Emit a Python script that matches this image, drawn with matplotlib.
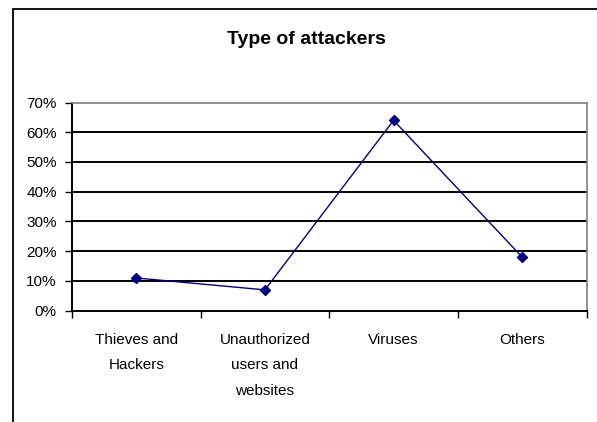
import matplotlib
matplotlib.use("Agg")
import matplotlib.pyplot as plt
from matplotlib.patches import Rectangle
from matplotlib.ticker import FixedLocator, NullFormatter

plt.rcParams['font.family'] = ['Liberation Sans', 'DejaVu Sans']

categories = ["Thieves and\nHackers", "Unauthorized\nusers and\nwebsites", "Viruses", "Others"]
shares = [11, 7, 64, 18]
y_ticks = [0, 10, 20, 30, 40, 50, 60, 70]
y_labels = ["%d%%" % v for v in y_ticks]

W, H = 597, 422
fig = plt.figure(figsize=(W / 100, H / 100), dpi=100)
fig.patch.set_facecolor("white")

# chart area border, runs off the right and bottom of the canvas
fig.add_artist(Rectangle((12.5 / W, -0.2), 2.0, 1.2 - 9 / H,
                         transform=fig.transFigure, fill=False,
                         edgecolor="black", linewidth=1.3))

ax = fig.add_axes([72 / W, 1 - 310.7 / H, (586.5 - 72) / W, (310.7 - 102.5) / H])

xs = list(range(len(categories)))
ax.plot(xs, shares, color="#000080", linewidth=1.0, marker="D",
        markersize=5.5, markerfacecolor="#000080", markeredgecolor="#000080",
        zorder=5)

ax.set_xlim(-0.5, len(categories) - 0.5)
ax.set_ylim(0, 70)

for v in y_ticks[1:-1]:
    ax.axhline(v, color="black", linewidth=1.4, zorder=1)

ax.set_yticks(y_ticks)
ax.set_yticklabels(y_labels, fontsize=11)
ax.tick_params(axis="y", direction="out", length=5, width=1, pad=6)

ax.xaxis.set_major_locator(FixedLocator([x - 0.5 for x in range(len(categories) + 1)]))
ax.xaxis.set_major_formatter(NullFormatter())
ax.xaxis.set_minor_locator(FixedLocator(xs))
ax.set_xticklabels(categories, minor=True, fontsize=11, linespacing=2.05, va="top")
ax.tick_params(axis="x", which="major", direction="out", length=5, width=1)
ax.tick_params(axis="x", which="minor", length=0, pad=16)

for side in ("left", "bottom"):
    ax.spines[side].set_color("black")
    ax.spines[side].set_linewidth(1.4)
for side in ("top", "right"):
    ax.spines[side].set_color("#808080")
    ax.spines[side].set_linewidth(1.2)

fig.text(306 / W, 1 - 39 / H, "Type of attackers", ha="center", va="center",
         fontsize=14, fontweight="bold")

fig.savefig("out.png", dpi=100)
